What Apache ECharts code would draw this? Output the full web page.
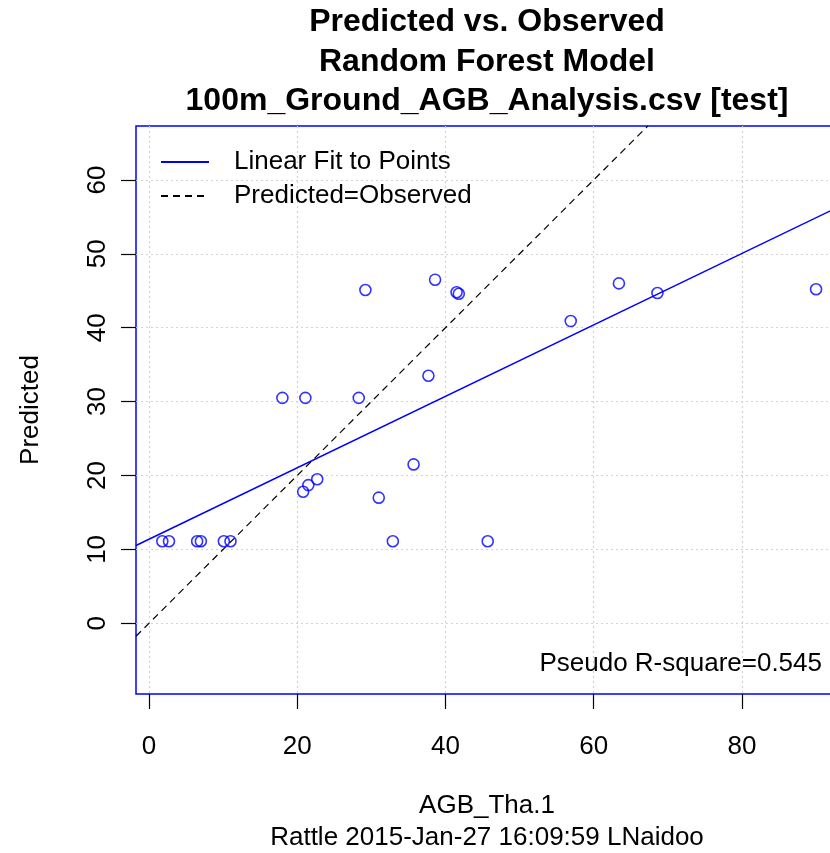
<!DOCTYPE html>
<html>
<head>
<meta charset="utf-8">
<script src="https://cdn.jsdelivr.net/npm/echarts@6/dist/echarts.min.js"></script>
<style>
  html, body { margin: 0; padding: 0; background: #fff; }
  #chart { width: 830px; height: 853px; }
</style>
</head>
<body>
<div id="chart"></div>
<script>
// Observed (x) and predicted (y) AGB values for the test set
const observed  = [29.2, 18.0, 21.1, 28.3, 37.7, 38.6, 41.5, 41.8, 56.9, 63.4, 68.6, 90.0,
                   1.8, 2.7, 6.5, 7.0, 10.1, 11.0, 32.9, 45.7,
                   20.8, 21.5, 22.7, 31.0, 35.7];
const predicted = [45.1, 30.5, 30.5, 30.5, 33.5, 46.5, 44.8, 44.6, 40.9, 46.0, 44.7, 45.2,
                   11.1, 11.1, 11.1, 11.1, 11.1, 11.1, 11.1, 11.1,
                   17.8, 18.7, 19.5, 17.0, 21.5];

// Linear fit to the points
const fitIntercept = 11.37;
const fitSlope = 0.4835;
const pseudoRSquare = 0.545;

// Axis ranges and tick labels
const xRange = [-1.75, 93.5];
const yRange = [-9.57, 67.3];
const xTicks = [0, 20, 40, 60, 80];
const yTicks = [0, 10, 20, 30, 40, 50, 60];

const titleLines = ['Predicted vs. Observed', 'Random Forest Model', '100m_Ground_AGB_Analysis.csv [test]'];
const xName = 'AGB_Tha.1';
const subName = 'Rattle 2015-Jan-27 16:09:59 LNaidoo';
const yName = 'Predicted';

const FONT = '"Liberation Sans", Arial, sans-serif';
const BLUE = '#0000ff';

const points = observed.map((x, i) => [x, predicted[i]]);
const fitLine = [xRange[0], xRange[1]].map(x => [x, fitIntercept + fitSlope * x]);
const identityLine = [xRange[0], yRange[1]].map(v => [v, v]);

const chart = echarts.init(document.getElementById('chart'), null, { renderer: 'canvas' });

const gridStyle = { color: '#d3d3d3', type: [2, 3], width: 1.2 };
const tickStyle = { color: '#000', width: 1.2 };

chart.setOption({
  animation: false,
  backgroundColor: '#ffffff',
  textStyle: { fontFamily: FONT },
  grid: {
    left: 136, top: 126, width: 706, height: 568,
    containLabel: false, outerBoundsMode: 'none',
    show: true, borderColor: BLUE, borderWidth: 1.5, backgroundColor: 'transparent'
  },
  xAxis: {
    type: 'value', min: xRange[0], max: xRange[1],
    axisLine: { show: false, onZero: false },
    axisTick: { show: true, customValues: xTicks, length: 15, lineStyle: tickStyle },
    axisLabel: { customValues: xTicks, fontSize: 26, color: '#000', margin: 40, lineHeight: 26, fontFamily: FONT },
    splitLine: { show: true, lineStyle: gridStyle }
  },
  yAxis: {
    type: 'value', min: yRange[0], max: yRange[1],
    axisLine: { show: false, onZero: false },
    axisTick: { show: true, customValues: yTicks, length: 15, lineStyle: tickStyle },
    axisLabel: { customValues: yTicks, fontSize: 26, color: '#000', margin: 25, rotate: 90, lineHeight: 26, fontFamily: FONT },
    splitLine: { show: true, lineStyle: gridStyle }
  },
  legend: {
    orient: 'vertical', left: 160, top: 149, padding: 0,
    itemWidth: 48, itemHeight: 14, itemGap: 8,
    data: ['Linear Fit to Points', 'Predicted=Observed'],
    itemStyle: { color: 'transparent', borderColor: 'transparent', borderWidth: 0, opacity: 0 },
    textStyle: { fontSize: 26, color: '#000', lineHeight: 26, padding: [0, 0, 0, 20], fontFamily: FONT },
    selectedMode: false
  },
  series: [
    {
      name: 'Points', type: 'scatter', data: points,
      symbol: 'circle', symbolSize: 11,
      itemStyle: { color: 'transparent', borderColor: BLUE, borderWidth: 1.6 },
      z: 5
    },
    {
      name: 'Linear Fit to Points', type: 'line', data: fitLine,
      showSymbol: false, symbol: 'none', clip: true,
      lineStyle: { color: BLUE, width: 1.5 },
      itemStyle: { color: BLUE }, z: 4
    },
    {
      name: 'Predicted=Observed', type: 'line', data: identityLine,
      showSymbol: false, symbol: 'none', clip: true,
      lineStyle: { color: '#000', width: 1.2, type: [7, 5] },
      itemStyle: { color: '#000' }, z: 4
    }
  ],
  graphic: [
    ...titleLines.map((t, i) => ({
      type: 'text', x: 487, y: [22, 62, 101][i],
      style: { text: t, fill: '#000', font: 'bold 32px ' + FONT, textAlign: 'center', textVerticalAlign: 'middle' }
    })),
    {
      type: 'text', x: 822, y: 664,
      style: { text: 'Pseudo R-square=' + pseudoRSquare, fill: '#000', font: '26px ' + FONT, textAlign: 'right', textVerticalAlign: 'middle' }
    },
    {
      type: 'text', x: 487, y: 806,
      style: { text: xName, fill: '#000', font: '26px ' + FONT, textAlign: 'center', textVerticalAlign: 'middle' }
    },
    {
      type: 'text', x: 487, y: 838,
      style: { text: subName, fill: '#000', font: '26px ' + FONT, textAlign: 'center', textVerticalAlign: 'middle' }
    },
    {
      type: 'text', x: 31, y: 410, rotation: Math.PI / 2,
      style: { text: yName, fill: '#000', font: '26px ' + FONT, textAlign: 'center', textVerticalAlign: 'middle' }
    }
  ]
});
</script>
</body>
</html>
